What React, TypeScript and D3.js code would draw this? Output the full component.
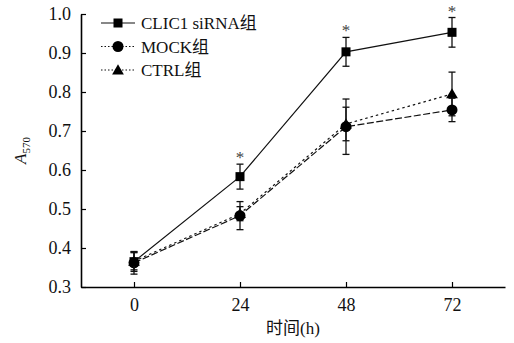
import { useEffect, useRef } from 'react';
import * as d3 from 'd3';

const hours = [0, 24, 48, 72];
const yTicks = [0.3, 0.4, 0.5, 0.6, 0.7, 0.8, 0.9, 1.0];

const clicMean = [0.365, 0.583, 0.903, 0.953];
const clicErr = [0.025, 0.032, 0.037, 0.038];
const mockMean = [0.362, 0.483, 0.711, 0.754];
const mockErr = [0.029, 0.036, 0.071, 0.03];
const ctrlMean = [0.366, 0.488, 0.718, 0.795];
const ctrlErr = [0.022, 0.018, 0.043, 0.056];
const starred = [false, true, true, true];

const seriesNames = ['CLIC1 siRNA组', 'MOCK组', 'CTRL组'];

export default function App() {
  const svgRef = useRef<SVGSVGElement>(null);

  useEffect(() => {
    if (!svgRef.current) return;
    const W = 514, H = 343;
    const margins = { top: 14, right: 9, bottom: 56, left: 81 };
    const width = W - margins.left - margins.right;
    const height = H - margins.top - margins.bottom;

    d3.select(svgRef.current).selectAll('*').remove();
    const svg = d3.select(svgRef.current).attr('width', W).attr('height', H);
    const g = svg.append('g').attr('transform', `translate(${margins.left},${margins.top})`);

    const x = d3.scaleLinear().domain([-12, 84]).range([0, width]);
    const y = d3.scaleLinear().domain([0.3, 1.0]).range([height, 0]);

    const serif = '"Liberation Serif", "Noto Sans CJK SC", serif';

    // axes
    const xAxis = g.append('g')
      .attr('transform', `translate(0,${height})`)
      .call(d3.axisBottom(x).tickValues(hours).tickSize(-5).tickPadding(11).tickSizeOuter(0));
    xAxis.select('.domain').attr('stroke', '#000').attr('stroke-width', 1.6);
    xAxis.selectAll('line').attr('stroke', '#000').attr('stroke-width', 1.2);
    xAxis.selectAll('text').attr('font-family', serif).attr('font-size', 18).attr('fill', '#111');

    const yAxis = g.append('g')
      .call(d3.axisLeft(y).tickValues(yTicks).tickSize(-5).tickPadding(10).tickSizeOuter(0)
        .tickFormat(d => d3.format('.1f')(d as number)));
    yAxis.select('.domain').attr('stroke', '#000').attr('stroke-width', 1.6);
    yAxis.selectAll('line').attr('stroke', '#000').attr('stroke-width', 1.2);
    yAxis.selectAll('text').attr('font-family', serif).attr('font-size', 18).attr('fill', '#111');

    // axis labels
    svg.append('text')
      .attr('x', margins.left + x(36))
      .attr('y', 334)
      .attr('text-anchor', 'middle')
      .attr('font-family', serif)
      .attr('font-size', 17)
      .attr('fill', '#111')
      .text('时间(h)');

    const yl = svg.append('text')
      .attr('transform', `translate(26,${margins.top + y(0.65)}) rotate(-90)`)
      .attr('text-anchor', 'middle')
      .attr('font-family', serif)
      .attr('font-size', 17)
      .attr('fill', '#111');
    yl.append('tspan').attr('font-style', 'italic').text('A');
    yl.append('tspan').attr('font-size', 11).attr('dy', 4).text('570');

    const series = [
      { name: seriesNames[0], mean: clicMean, err: clicErr, dash: null as string | null, marker: 'square' },
      { name: seriesNames[1], mean: mockMean, err: mockErr, dash: '7,2.5', marker: 'circle' },
      { name: seriesNames[2], mean: ctrlMean, err: ctrlErr, dash: '2.5,3', marker: 'triangle' },
    ];

    const drawMarker = (sel: d3.Selection<SVGGElement, unknown, null, undefined>, kind: string, cx: number, cy: number) => {
      if (kind === 'square') {
        sel.append('rect').attr('x', cx - 4.5).attr('y', cy - 4.5).attr('width', 9).attr('height', 9).attr('fill', '#000');
      } else if (kind === 'circle') {
        sel.append('circle').attr('cx', cx).attr('cy', cy).attr('r', 5.5).attr('fill', '#000');
      } else {
        sel.append('path')
          .attr('d', d3.symbol().type(d3.symbolTriangle).size(60)())
          .attr('transform', `translate(${cx},${cy + 1})`)
          .attr('fill', '#000');
      }
    };

    const line = d3.line<number>().x((_, i) => x(hours[i])).y(d => y(d));

    // lines and error bars
    series.slice().reverse().forEach(s => {
      g.append('path')
        .datum(s.mean)
        .attr('d', line)
        .attr('fill', 'none')
        .attr('stroke', '#111')
        .attr('stroke-width', 1.2)
        .attr('stroke-dasharray', s.dash);

      const eb = g.append('g').attr('stroke', '#111').attr('stroke-width', 1.3);
      s.mean.forEach((m, i) => {
        const cx = x(hours[i]);
        const top = y(m + s.err[i]);
        const bot = y(m - s.err[i]);
        eb.append('line').attr('x1', cx).attr('x2', cx).attr('y1', top).attr('y2', bot);
        eb.append('line').attr('x1', cx - 3.5).attr('x2', cx + 3.5).attr('y1', top).attr('y2', top);
        eb.append('line').attr('x1', cx - 3.5).attr('x2', cx + 3.5).attr('y1', bot).attr('y2', bot);
      });
      const mg = g.append('g');
      s.mean.forEach((m, i) => drawMarker(mg, s.marker, x(hours[i]), y(m)));
    });

    // significance asterisks
    hours.forEach((h, i) => {
      if (!starred[i]) return;
      g.append('text')
        .attr('x', x(h))
        .attr('y', y(clicMean[i] + clicErr[i]) - 1)
        .attr('text-anchor', 'middle')
        .attr('font-family', serif)
        .attr('font-size', 17)
        .attr('fill', '#444')
        .text('*');
    });

    // legend
    const lg = svg.append('g').attr('transform', 'translate(101,23)');
    series.forEach((s, i) => {
      const row = lg.append('g').attr('transform', `translate(0,${i * 23.5})`);
      row.append('line')
        .attr('x1', 0).attr('x2', 34).attr('y1', 0).attr('y2', 0)
        .attr('stroke', '#111').attr('stroke-width', 1.2)
        .attr('stroke-dasharray', s.dash === null ? null : '1.5,2');
      drawMarker(row as any, s.marker, 17, 0);
      row.append('text')
        .attr('x', 40)
        .attr('y', 6)
        .attr('font-family', serif)
        .attr('font-size', 17)
        .attr('fill', '#111')
        .text(s.name);
    });
  }, []);

  return <svg ref={svgRef} style={{ position: 'absolute', left: 0, top: 0, background: '#fff' }} />;
}
